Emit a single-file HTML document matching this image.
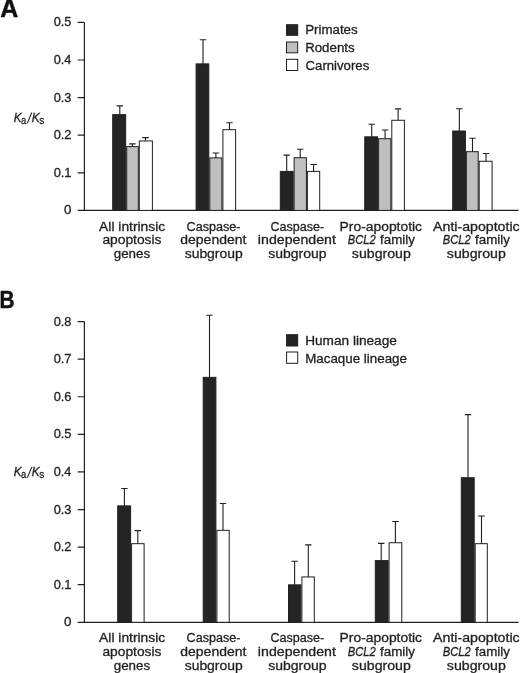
<!DOCTYPE html>
<html lang="en"><head><meta charset="utf-8"><title>Ka/Ks of intrinsic apoptosis genes</title>
<style>html,body{margin:0;padding:0;background:#fff}svg{display:block;will-change:transform;filter:grayscale(1)}</style></head><body>
<svg width="520" height="673" viewBox="0 0 520 673" font-family='"Liberation Sans", Arial, sans-serif' fill="#231f20" stroke="#231f20" stroke-width="0.32">
<rect width="520" height="673" fill="#fff" stroke="none"/>
<text transform="translate(0.3,17.2) scale(1.0,1.03)" font-size="25" font-weight="bold" fill="#111" stroke="#111" stroke-width="0.4">A</text>
<path d="M84.4 22.4V210.4M77.7 210.4H518.6" fill="none" stroke="#231f20" stroke-width="1.2"/>
<text x="63.93" y="214.40" font-size="12.7" textLength="7.45" lengthAdjust="spacingAndGlyphs">0</text>
<text x="53.65" y="176.80" font-size="12.7" textLength="17.84" lengthAdjust="spacingAndGlyphs">0.1</text>
<text x="53.65" y="139.20" font-size="12.7" textLength="17.84" lengthAdjust="spacingAndGlyphs">0.2</text>
<text x="53.65" y="101.60" font-size="12.7" textLength="17.77" lengthAdjust="spacingAndGlyphs">0.3</text>
<text x="53.66" y="64.00" font-size="12.7" textLength="17.57" lengthAdjust="spacingAndGlyphs">0.4</text>
<text x="53.65" y="26.40" font-size="12.7" textLength="17.77" lengthAdjust="spacingAndGlyphs">0.5</text>
<path d="M77.7 172.80H84.4M77.7 135.20H84.4M77.7 97.60H84.4M77.7 60.00H84.4M77.7 22.40H84.4" fill="none" stroke="#231f20" stroke-width="1.2"/>
<text><tspan x="13.75" y="121.80" font-size="12.9" font-style="italic" textLength="7.81" lengthAdjust="spacingAndGlyphs">K</tspan><tspan x="20.92" y="123.70" font-size="11.6" textLength="5.24" lengthAdjust="spacingAndGlyphs">a</tspan><tspan x="26.70" y="123.10" font-size="15.3" rotate="7.5" stroke="none">/</tspan><tspan x="31.74" y="121.80" font-size="12.9" font-style="italic" textLength="7.91" lengthAdjust="spacingAndGlyphs">K</tspan><tspan x="39.25" y="123.70" font-size="11.6" textLength="5.00" lengthAdjust="spacingAndGlyphs">s</tspan></text>
<rect x="112.70" y="114.64" width="13.00" height="95.76" fill="#262324" stroke="#231f20" stroke-width="1"/>
<rect x="126.70" y="146.60" width="11.60" height="63.80" fill="#c0c0c0" stroke="#231f20" stroke-width="1"/>
<rect x="139.30" y="140.96" width="13.10" height="69.44" fill="#fff" stroke="#231f20" stroke-width="1"/>
<path d="M119.80 114.64V105.87M116.60 105.87H123.00" fill="none" stroke="#231f20" stroke-width="1.1"/>
<path d="M132.40 146.60V143.85M129.20 143.85H135.60" fill="none" stroke="#231f20" stroke-width="1.1"/>
<path d="M145.50 140.96V137.64M142.30 137.64H148.70" fill="none" stroke="#231f20" stroke-width="1.1"/>
<rect x="196.10" y="63.88" width="12.70" height="146.52" fill="#262324" stroke="#231f20" stroke-width="1"/>
<rect x="209.80" y="157.88" width="12.10" height="52.52" fill="#c0c0c0" stroke="#231f20" stroke-width="1"/>
<rect x="222.90" y="129.68" width="12.70" height="80.72" fill="#fff" stroke="#231f20" stroke-width="1"/>
<path d="M203.00 63.88V39.70M199.80 39.70H206.20" fill="none" stroke="#231f20" stroke-width="1.1"/>
<path d="M215.90 157.88V153.06M212.70 153.06H219.10" fill="none" stroke="#231f20" stroke-width="1.1"/>
<path d="M229.50 129.68V122.79M226.30 122.79H232.70" fill="none" stroke="#231f20" stroke-width="1.1"/>
<rect x="280.30" y="171.42" width="12.85" height="38.98" fill="#262324" stroke="#231f20" stroke-width="1"/>
<rect x="294.15" y="157.70" width="12.25" height="52.70" fill="#c0c0c0" stroke="#231f20" stroke-width="1"/>
<rect x="307.40" y="171.42" width="12.30" height="38.98" fill="#fff" stroke="#231f20" stroke-width="1"/>
<path d="M286.70 171.42V155.13M283.50 155.13H289.90" fill="none" stroke="#231f20" stroke-width="1.1"/>
<path d="M300.20 157.70V149.30M297.00 149.30H303.40" fill="none" stroke="#231f20" stroke-width="1.1"/>
<path d="M313.60 171.42V164.53M310.40 164.53H316.80" fill="none" stroke="#231f20" stroke-width="1.1"/>
<rect x="364.75" y="136.83" width="12.85" height="73.57" fill="#262324" stroke="#231f20" stroke-width="1"/>
<rect x="378.60" y="138.71" width="12.20" height="71.69" fill="#c0c0c0" stroke="#231f20" stroke-width="1"/>
<rect x="391.80" y="120.28" width="12.60" height="90.12" fill="#fff" stroke="#231f20" stroke-width="1"/>
<path d="M371.70 136.83V124.30M368.50 124.30H374.90" fill="none" stroke="#231f20" stroke-width="1.1"/>
<path d="M385.10 138.71V129.94M381.90 129.94H388.30" fill="none" stroke="#231f20" stroke-width="1.1"/>
<path d="M398.10 120.28V108.88M394.90 108.88H401.30" fill="none" stroke="#231f20" stroke-width="1.1"/>
<rect x="452.70" y="131.00" width="12.70" height="79.40" fill="#262324" stroke="#231f20" stroke-width="1"/>
<rect x="466.40" y="151.68" width="11.80" height="58.72" fill="#c0c0c0" stroke="#231f20" stroke-width="1"/>
<rect x="479.20" y="161.27" width="12.90" height="49.13" fill="#fff" stroke="#231f20" stroke-width="1"/>
<path d="M459.35 131.00V108.69M456.15 108.69H462.55" fill="none" stroke="#231f20" stroke-width="1.1"/>
<path d="M472.50 151.68V138.21M469.30 138.21H475.70" fill="none" stroke="#231f20" stroke-width="1.1"/>
<path d="M486.00 161.27V153.44M482.80 153.44H489.20" fill="none" stroke="#231f20" stroke-width="1.1"/>
<rect x="286.5" y="24.70" width="11.2" height="10.60" fill="#262324" stroke="#231f20" stroke-width="1"/>
<text x="305.13" y="34.10" font-size="13.7" textLength="52.53" lengthAdjust="spacingAndGlyphs">Primates</text>
<rect x="286.5" y="42.00" width="11.2" height="10.80" fill="#c0c0c0" stroke="#231f20" stroke-width="1"/>
<text x="305.14" y="52.10" font-size="13.7" textLength="49.53" lengthAdjust="spacingAndGlyphs">Rodents</text>
<rect x="286.5" y="59.30" width="11.2" height="11.20" fill="#fff" stroke="#231f20" stroke-width="1"/>
<text x="305.54" y="69.90" font-size="13.7" textLength="63.72" lengthAdjust="spacingAndGlyphs">Carnivores</text>
<text x="99.10" y="230.50" font-size="13.7" textLength="66.15" lengthAdjust="spacingAndGlyphs">All intrinsic</text>
<text x="102.45" y="244.35" font-size="13.7" textLength="59.03" lengthAdjust="spacingAndGlyphs">apoptosis</text>
<text x="113.71" y="258.20" font-size="13.7" textLength="36.50" lengthAdjust="spacingAndGlyphs">genes</text>
<text x="186.57" y="230.50" font-size="13.7" textLength="53.97" lengthAdjust="spacingAndGlyphs">Caspase-</text>
<text x="180.34" y="244.35" font-size="13.7" textLength="66.00" lengthAdjust="spacingAndGlyphs">dependent</text>
<text x="184.70" y="258.20" font-size="13.7" textLength="58.02" lengthAdjust="spacingAndGlyphs">subgroup</text>
<text x="270.42" y="230.50" font-size="13.7" textLength="53.67" lengthAdjust="spacingAndGlyphs">Caspase-</text>
<text x="257.88" y="244.35" font-size="13.7" textLength="77.96" lengthAdjust="spacingAndGlyphs">independent</text>
<text x="268.20" y="258.20" font-size="13.7" textLength="58.43" lengthAdjust="spacingAndGlyphs">subgroup</text>
<text x="339.59" y="230.50" font-size="13.7" textLength="82.46" lengthAdjust="spacingAndGlyphs">Pro-apoptotic</text>
<text><tspan x="347.71" y="244.35" font-size="13.7" font-style="italic" textLength="28.06" lengthAdjust="spacingAndGlyphs">BCL2</tspan> <tspan x="380.12" y="244.35" font-size="13.7" textLength="34.83" lengthAdjust="spacingAndGlyphs">family</tspan></text>
<text x="351.85" y="258.20" font-size="13.7" textLength="58.93" lengthAdjust="spacingAndGlyphs">subgroup</text>
<text x="433.10" y="230.50" font-size="13.7" textLength="86.55" lengthAdjust="spacingAndGlyphs">Anti-apoptotic</text>
<text><tspan x="442.71" y="244.35" font-size="13.7" font-style="italic" textLength="28.06" lengthAdjust="spacingAndGlyphs">BCL2</tspan> <tspan x="475.12" y="244.35" font-size="13.7" textLength="34.83" lengthAdjust="spacingAndGlyphs">family</tspan></text>
<text x="446.85" y="258.20" font-size="13.7" textLength="58.93" lengthAdjust="spacingAndGlyphs">subgroup</text>
<text transform="translate(-0.6,307.6) scale(0.84,1.0)" font-size="24.8" font-weight="bold" fill="#111" stroke="#111" stroke-width="0.5">B</text>
<path d="M84.4 321.6V622.3M77.7 622.3H518.6" fill="none" stroke="#231f20" stroke-width="1.2"/>
<text x="63.93" y="626.30" font-size="12.7" textLength="7.45" lengthAdjust="spacingAndGlyphs">0</text>
<text x="53.65" y="588.71" font-size="12.7" textLength="17.84" lengthAdjust="spacingAndGlyphs">0.1</text>
<text x="53.65" y="551.12" font-size="12.7" textLength="17.84" lengthAdjust="spacingAndGlyphs">0.2</text>
<text x="53.65" y="513.54" font-size="12.7" textLength="17.77" lengthAdjust="spacingAndGlyphs">0.3</text>
<text x="53.66" y="475.95" font-size="12.7" textLength="17.57" lengthAdjust="spacingAndGlyphs">0.4</text>
<text x="53.65" y="438.36" font-size="12.7" textLength="17.77" lengthAdjust="spacingAndGlyphs">0.5</text>
<text x="53.65" y="400.77" font-size="12.7" textLength="17.77" lengthAdjust="spacingAndGlyphs">0.6</text>
<text x="53.65" y="363.19" font-size="12.7" textLength="17.84" lengthAdjust="spacingAndGlyphs">0.7</text>
<text x="53.65" y="325.60" font-size="12.7" textLength="17.77" lengthAdjust="spacingAndGlyphs">0.8</text>
<path d="M77.7 584.71H84.4M77.7 547.12H84.4M77.7 509.54H84.4M77.7 471.95H84.4M77.7 434.36H84.4M77.7 396.77H84.4M77.7 359.19H84.4M77.7 321.60H84.4" fill="none" stroke="#231f20" stroke-width="1.2"/>
<text><tspan x="13.75" y="476.30" font-size="12.9" font-style="italic" textLength="7.81" lengthAdjust="spacingAndGlyphs">K</tspan><tspan x="20.92" y="478.20" font-size="11.6" textLength="5.24" lengthAdjust="spacingAndGlyphs">a</tspan><tspan x="26.70" y="477.60" font-size="15.3" rotate="7.5" stroke="none">/</tspan><tspan x="31.74" y="476.30" font-size="12.9" font-style="italic" textLength="7.91" lengthAdjust="spacingAndGlyphs">K</tspan><tspan x="39.25" y="478.20" font-size="11.6" textLength="5.00" lengthAdjust="spacingAndGlyphs">s</tspan></text>
<rect x="117.70" y="505.90" width="12.90" height="116.40" fill="#262324" stroke="#231f20" stroke-width="1"/>
<rect x="131.60" y="543.68" width="12.50" height="78.62" fill="#fff" stroke="#231f20" stroke-width="1"/>
<path d="M124.40 505.90V488.49M121.20 488.49H127.60" fill="none" stroke="#231f20" stroke-width="1.1"/>
<path d="M137.80 543.68V530.59M134.60 530.59H141.00" fill="none" stroke="#231f20" stroke-width="1.1"/>
<rect x="203.20" y="377.35" width="12.70" height="244.95" fill="#262324" stroke="#231f20" stroke-width="1"/>
<rect x="216.90" y="530.33" width="12.30" height="91.97" fill="#fff" stroke="#231f20" stroke-width="1"/>
<path d="M209.50 377.35V315.21M206.30 315.21H212.70" fill="none" stroke="#231f20" stroke-width="1.1"/>
<path d="M223.00 530.33V503.52M219.80 503.52H226.20" fill="none" stroke="#231f20" stroke-width="1.1"/>
<rect x="288.50" y="584.84" width="12.40" height="37.46" fill="#262324" stroke="#231f20" stroke-width="1"/>
<rect x="301.90" y="576.94" width="12.40" height="45.36" fill="#fff" stroke="#231f20" stroke-width="1"/>
<path d="M294.60 584.84V561.22M291.40 561.22H297.80" fill="none" stroke="#231f20" stroke-width="1.1"/>
<path d="M308.30 576.94V544.87M305.10 544.87H311.50" fill="none" stroke="#231f20" stroke-width="1.1"/>
<rect x="375.30" y="560.59" width="12.80" height="61.71" fill="#262324" stroke="#231f20" stroke-width="1"/>
<rect x="389.10" y="542.74" width="12.70" height="79.56" fill="#fff" stroke="#231f20" stroke-width="1"/>
<path d="M381.20 560.59V543.37M378.00 543.37H384.40" fill="none" stroke="#231f20" stroke-width="1.1"/>
<path d="M395.40 542.74V521.57M392.20 521.57H398.60" fill="none" stroke="#231f20" stroke-width="1.1"/>
<rect x="461.30" y="477.71" width="12.90" height="144.59" fill="#262324" stroke="#231f20" stroke-width="1"/>
<rect x="475.20" y="543.68" width="12.10" height="78.62" fill="#fff" stroke="#231f20" stroke-width="1"/>
<path d="M468.00 477.71V414.63M464.80 414.63H471.20" fill="none" stroke="#231f20" stroke-width="1.1"/>
<path d="M481.50 543.68V515.93M478.30 515.93H484.70" fill="none" stroke="#231f20" stroke-width="1.1"/>
<rect x="286.6" y="334.70" width="11.1" height="11.30" fill="#262324" stroke="#231f20" stroke-width="1"/>
<text x="305.21" y="344.80" font-size="13.7" textLength="91.65" lengthAdjust="spacingAndGlyphs">Human lineage</text>
<rect x="286.6" y="352.00" width="11.1" height="11.30" fill="#fff" stroke="#231f20" stroke-width="1"/>
<text x="305.23" y="362.50" font-size="13.7" textLength="101.72" lengthAdjust="spacingAndGlyphs">Macaque lineage</text>
<text x="99.10" y="642.40" font-size="13.7" textLength="66.15" lengthAdjust="spacingAndGlyphs">All intrinsic</text>
<text x="102.45" y="656.25" font-size="13.7" textLength="59.03" lengthAdjust="spacingAndGlyphs">apoptosis</text>
<text x="113.71" y="670.10" font-size="13.7" textLength="36.50" lengthAdjust="spacingAndGlyphs">genes</text>
<text x="186.57" y="642.40" font-size="13.7" textLength="53.97" lengthAdjust="spacingAndGlyphs">Caspase-</text>
<text x="180.34" y="656.25" font-size="13.7" textLength="66.00" lengthAdjust="spacingAndGlyphs">dependent</text>
<text x="184.70" y="670.10" font-size="13.7" textLength="58.02" lengthAdjust="spacingAndGlyphs">subgroup</text>
<text x="270.42" y="642.40" font-size="13.7" textLength="53.67" lengthAdjust="spacingAndGlyphs">Caspase-</text>
<text x="257.88" y="656.25" font-size="13.7" textLength="77.96" lengthAdjust="spacingAndGlyphs">independent</text>
<text x="268.20" y="670.10" font-size="13.7" textLength="58.43" lengthAdjust="spacingAndGlyphs">subgroup</text>
<text x="339.59" y="642.40" font-size="13.7" textLength="82.46" lengthAdjust="spacingAndGlyphs">Pro-apoptotic</text>
<text><tspan x="347.71" y="656.25" font-size="13.7" font-style="italic" textLength="28.06" lengthAdjust="spacingAndGlyphs">BCL2</tspan> <tspan x="380.12" y="656.25" font-size="13.7" textLength="34.83" lengthAdjust="spacingAndGlyphs">family</tspan></text>
<text x="351.85" y="670.10" font-size="13.7" textLength="58.93" lengthAdjust="spacingAndGlyphs">subgroup</text>
<text x="433.10" y="642.40" font-size="13.7" textLength="86.55" lengthAdjust="spacingAndGlyphs">Anti-apoptotic</text>
<text><tspan x="442.71" y="656.25" font-size="13.7" font-style="italic" textLength="28.06" lengthAdjust="spacingAndGlyphs">BCL2</tspan> <tspan x="475.12" y="656.25" font-size="13.7" textLength="34.83" lengthAdjust="spacingAndGlyphs">family</tspan></text>
<text x="446.85" y="670.10" font-size="13.7" textLength="58.93" lengthAdjust="spacingAndGlyphs">subgroup</text>
</svg></body></html>
